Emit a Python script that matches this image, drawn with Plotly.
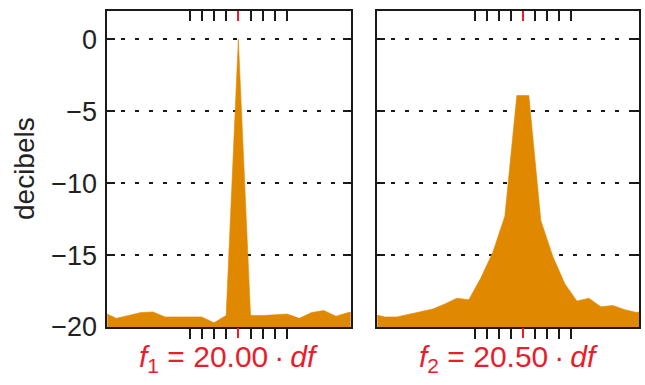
import plotly.graph_objects as go

# ---------------- data ----------------
bins_1 = [9, 10, 11, 12, 13, 14, 15, 16, 17, 18, 19, 20, 21, 22, 23, 24, 25, 26, 27, 28, 29, 30]
db_1 = [-19.0, -19.4, -19.2, -19.0, -18.95, -19.3, -19.3, -19.3, -19.3, -19.7, -19.2, 0.0,
        -19.2, -19.2, -19.15, -19.1, -19.4, -19.0, -18.85, -19.25, -19.0, -18.9]

bins_2 = [8, 9, 10, 11, 12, 13, 14, 15, 16, 17, 18, 19, 20, 21, 22, 23, 24, 25, 26, 27, 28, 29, 30, 31]
db_2 = [-19.1, -19.3, -19.3, -19.1, -18.95, -18.75, -18.4, -18.0, -18.1, -16.6, -14.8, -12.3,
        -3.9, -3.9, -12.6, -15.1, -17.0, -18.2, -18.0, -18.6, -18.5, -18.8, -19.0, -18.7]

f1 = 20.00
f2 = 20.50
tick_offsets = [-4, -3, -2, -1, 1, 2, 3, 4]
y_ticks = [0, -5, -10, -15, -20]
y_labels = ["0", "\u22125", "\u221210", "\u221215", "\u221220"]
label_1 = "<i>f</i><sub>1</sub> = 20.00\u2009\u00b7\u2009<i>df</i>"
label_2 = "<i>f</i><sub>2</sub> = 20.50\u2009\u00b7\u2009<i>df</i>"

# ---------------- style ----------------
W, H = 645, 385
ORANGE = "rgb(224,137,0)"
RED = "rgb(232,30,45)"
BLACK = "#1a1a1a"
FONT = "Liberation Sans"
Y_RANGE = [-20, 1.98]
X1_RANGE = [9.26, 29.21]
X2_RANGE = [8.38, 30.2]
DOM1 = [107.3 / W, 350.7 / W]
DOM2 = [377.3 / W, 639.3 / W]
YDOM = [1 - 327.0 / H, 1 - 11.0 / H]

fig = go.Figure()

def add_panel(bins, db, xa, ya):
    floor = [Y_RANGE[0]] * len(bins)
    fig.add_trace(go.Scatter(x=bins, y=floor, mode="lines", line=dict(width=0, color=ORANGE),
                             xaxis=xa, yaxis=ya, hoverinfo="skip", showlegend=False))
    fig.add_trace(go.Scatter(x=bins, y=db, mode="lines", fill="tonexty", fillcolor=ORANGE,
                             line=dict(width=0.6, color=ORANGE),
                             xaxis=xa, yaxis=ya, hoverinfo="skip", showlegend=False))

add_panel(bins_1, db_1, "x", "y")
add_panel(bins_2, db_2, "x2", "y2")

# invisible traces to anchor overlay tick axes
for xa, ya, b, d in [("x3", "y", bins_1, db_1), ("x5", "y", bins_1, db_1),
                     ("x7", "y", bins_1, db_1), ("x4", "y2", bins_2, db_2),
                     ("x6", "y2", bins_2, db_2), ("x8", "y2", bins_2, db_2)]:
    fig.add_trace(go.Scatter(x=b, y=d, mode="lines", line=dict(width=0), opacity=0,
                             xaxis=xa, yaxis=ya, hoverinfo="skip", showlegend=False))

def xbase(dom, rng, anchor):
    return dict(domain=dom, range=rng, anchor=anchor, showgrid=False, zeroline=False,
                showticklabels=False, fixedrange=True, automargin=False)

ticklen = 10
tw = 1.8
black_1 = [f1 + o for o in tick_offsets]
black_2 = [f2 + o for o in tick_offsets]

layout_axes = {}
# panel 1
layout_axes["xaxis"] = dict(**xbase(DOM1, X1_RANGE, "y"), showline=True, mirror=True,
                            linecolor=BLACK, linewidth=1.6, ticks="outside",
                            tickvals=black_1, ticklen=ticklen, tickwidth=tw, tickcolor=BLACK)
layout_axes["xaxis3"] = dict(**xbase(DOM1, X1_RANGE, "y"), overlaying="x", side="bottom",
                             showline=False, ticks="outside", tickvals=[f1], ticklen=ticklen,
                             tickwidth=tw, tickcolor=RED)
layout_axes["xaxis5"] = dict(**xbase(DOM1, X1_RANGE, "y"), overlaying="x", side="top",
                             showline=False, ticks="inside", tickvals=black_1, ticklen=ticklen,
                             tickwidth=tw, tickcolor=BLACK)
layout_axes["xaxis7"] = dict(**xbase(DOM1, X1_RANGE, "y"), overlaying="x", side="top",
                             showline=False, ticks="inside", tickvals=[f1], ticklen=ticklen,
                             tickwidth=tw, tickcolor=RED)
# panel 2
layout_axes["xaxis2"] = dict(**xbase(DOM2, X2_RANGE, "y2"), showline=True, mirror=True,
                             linecolor=BLACK, linewidth=1.6, ticks="outside",
                             tickvals=black_2, ticklen=ticklen, tickwidth=tw, tickcolor=BLACK)
layout_axes["xaxis4"] = dict(**xbase(DOM2, X2_RANGE, "y2"), overlaying="x2", side="bottom",
                             showline=False, ticks="outside", tickvals=[f2], ticklen=ticklen,
                             tickwidth=tw, tickcolor=RED)
layout_axes["xaxis6"] = dict(**xbase(DOM2, X2_RANGE, "y2"), overlaying="x2", side="top",
                             showline=False, ticks="inside", tickvals=black_2, ticklen=ticklen,
                             tickwidth=tw, tickcolor=BLACK)
layout_axes["xaxis8"] = dict(**xbase(DOM2, X2_RANGE, "y2"), overlaying="x2", side="top",
                             showline=False, ticks="inside", tickvals=[f2], ticklen=ticklen,
                             tickwidth=tw, tickcolor=RED)

ybase = dict(domain=YDOM, range=Y_RANGE, showline=True, mirror="ticks", linecolor=BLACK,
             linewidth=1.6, ticks="inside", ticklen=8, tickwidth=1.8, tickcolor=BLACK,
             tickvals=y_ticks, ticktext=y_labels, showgrid=True, gridcolor=BLACK,
             gridwidth=1.7, griddash="4px,10px", zeroline=False, fixedrange=True,
             automargin=False,
             tickfont=dict(family=FONT, size=27, color="#222"))
layout_axes["yaxis"] = dict(**ybase, anchor="x", ticklabelstandoff=3)
layout_axes["yaxis2"] = dict(**ybase, anchor="x2", showticklabels=False)

fig.update_layout(
    width=W, height=H,
    margin=dict(l=0, r=0, t=0, b=0, pad=0),
    paper_bgcolor="white", plot_bgcolor="white",
    showlegend=False,
    font=dict(family=FONT, color="#222"),
    **layout_axes,
)

fig.add_annotation(text="decibels", x=24 / W, y=(YDOM[0] + YDOM[1]) / 2, xref="paper", yref="paper",
                   textangle=-90, showarrow=False, xanchor="center", yanchor="middle",
                   font=dict(family=FONT, size=28, color="#222"))
fig.add_annotation(text=label_1, x=sum(DOM1) / 2, y=1 - 358 / H, xref="paper", yref="paper",
                   showarrow=False, xanchor="center", yanchor="middle",
                   font=dict(family=FONT, size=30, color=RED))
fig.add_annotation(text=label_2, x=sum(DOM2) / 2, y=1 - 358 / H, xref="paper", yref="paper",
                   showarrow=False, xanchor="center", yanchor="middle",
                   font=dict(family=FONT, size=30, color=RED))

fig.write_html("out.html", config={"displayModeBar": False},
               post_script="document.body.style.margin='0';document.body.style.padding='0';"
                           "document.body.style.overflow='hidden';")
